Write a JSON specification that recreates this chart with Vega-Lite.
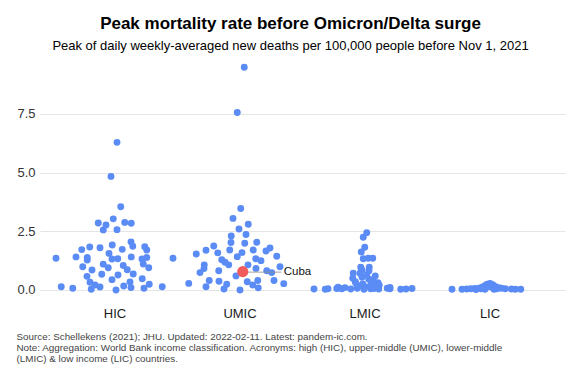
{
  "$schema": "https://vega.github.io/schema/vega-lite/v6.json",
  "width": 525,
  "height": 245,
  "autosize": "none",
  "padding": {"left": 40, "top": 56, "right": 15, "bottom": 72},
  "background": "white",
  "config": {"view": {"stroke": null}, "font": "Liberation Sans"},
  "title": {
    "text": "Peak mortality rate before Omicron/Delta surge",
    "subtitle": "Peak of daily weekly-averaged new deaths per 100,000 people before Nov 1, 2021",
    "anchor": "middle",
    "frame": "bounds",
    "font": "Liberation Sans",
    "fontSize": 17,
    "fontWeight": "bold",
    "color": "black",
    "subtitleFont": "Liberation Sans",
    "subtitleFontSize": 13,
    "subtitleColor": "black",
    "offset": 2,
    "subtitlePadding": 7
  },
  "datasets": {
    "pts": [
      {"g":"HIC","j":0.016,"v":6.29},{"g":"HIC","j":-0.032,"v":4.84},{"g":"HIC","j":0.046,"v":3.55},{"g":"HIC","j":-0.134,"v":2.85},
      {"g":"HIC","j":-0.072,"v":2.77},{"g":"HIC","j":-0.014,"v":3.03},{"g":"HIC","j":0.078,"v":2.88},{"g":"HIC","j":0.13,"v":2.84},
      {"g":"HIC","j":-0.094,"v":2.56},{"g":"HIC","j":0.016,"v":2.57},{"g":"HIC","j":-0.472,"v":1.35},{"g":"HIC","j":-0.312,"v":1.41},
      {"g":"HIC","j":-0.266,"v":1.72},{"g":"HIC","j":-0.222,"v":1.38},{"g":"HIC","j":-0.222,"v":1.28},{"g":"HIC","j":-0.202,"v":1.83},
      {"g":"HIC","j":-0.12,"v":1.8},{"g":"HIC","j":-0.022,"v":1.92},{"g":"HIC","j":0.058,"v":1.73},{"g":"HIC","j":0.128,"v":2.05},
      {"g":"HIC","j":0.142,"v":1.86},{"g":"HIC","j":0.238,"v":1.84},{"g":"HIC","j":0.254,"v":1.7},{"g":"HIC","j":-0.048,"v":1.56},
      {"g":"HIC","j":-0.024,"v":1.32},{"g":"HIC","j":0.022,"v":1.33},{"g":"HIC","j":0.13,"v":1.41},{"g":"HIC","j":0.216,"v":1.32},
      {"g":"HIC","j":0.254,"v":1.38},{"g":"HIC","j":0.464,"v":1.35},{"g":"HIC","j":-0.258,"v":0.99},{"g":"HIC","j":-0.184,"v":0.85},
      {"g":"HIC","j":-0.094,"v":1.1},{"g":"HIC","j":-0.054,"v":0.95},{"g":"HIC","j":0.066,"v":1.04},{"g":"HIC","j":0.098,"v":0.86},
      {"g":"HIC","j":0.226,"v":1.11},{"g":"HIC","j":0.27,"v":0.95},{"g":"HIC","j":-0.224,"v":0.58},{"g":"HIC","j":-0.106,"v":0.67},
      {"g":"HIC","j":0.024,"v":0.64},{"g":"HIC","j":0.146,"v":0.68},{"g":"HIC","j":0.218,"v":0.48},{"g":"HIC","j":-0.2,"v":0.33},
      {"g":"HIC","j":-0.16,"v":0.21},{"g":"HIC","j":-0.12,"v":0.13},{"g":"HIC","j":-0.024,"v":0.44},{"g":"HIC","j":0.07,"v":0.17},
      {"g":"HIC","j":0.12,"v":0.34},{"g":"HIC","j":0.128,"v":0.1},{"g":"HIC","j":0.274,"v":0.24},{"g":"HIC","j":0.232,"v":0.07},
      {"g":"HIC","j":-0.43,"v":0.14},{"g":"HIC","j":-0.338,"v":0.07},{"g":"HIC","j":-0.19,"v":0.03},{"g":"HIC","j":0.008,"v":0.0},
      {"g":"HIC","j":0.378,"v":0.14},
      {"g":"UMIC","j":0.034,"v":9.49},{"g":"UMIC","j":-0.022,"v":7.56},{"g":"UMIC","j":0.006,"v":3.47},{"g":"UMIC","j":-0.056,"v":3.05},
      {"g":"UMIC","j":0.066,"v":2.8},{"g":"UMIC","j":-0.008,"v":2.6},{"g":"UMIC","j":-0.07,"v":2.3},{"g":"UMIC","j":0.048,"v":2.36},
      {"g":"UMIC","j":-0.072,"v":2.02},{"g":"UMIC","j":0.038,"v":1.99},{"g":"UMIC","j":0.134,"v":2.03},{"g":"UMIC","j":-0.21,"v":1.87},
      {"g":"UMIC","j":-0.272,"v":1.69},{"g":"UMIC","j":-0.35,"v":1.53},{"g":"UMIC","j":-0.082,"v":1.7},{"g":"UMIC","j":0.106,"v":1.7},
      {"g":"UMIC","j":0.208,"v":1.66},{"g":"UMIC","j":0.24,"v":1.79},{"g":"UMIC","j":0.294,"v":1.44},{"g":"UMIC","j":-0.178,"v":1.58},
      {"g":"UMIC","j":0.016,"v":1.59},{"g":"UMIC","j":-0.022,"v":1.42},{"g":"UMIC","j":-0.146,"v":1.29},{"g":"UMIC","j":0.126,"v":1.33},
      {"g":"UMIC","j":0.168,"v":1.25},{"g":"UMIC","j":0.064,"v":1.07},{"g":"UMIC","j":-0.286,"v":1.07},{"g":"UMIC","j":-0.09,"v":1.07},
      {"g":"UMIC","j":-0.12,"v":1.18},{"g":"UMIC","j":0.32,"v":0.99},{"g":"UMIC","j":-0.288,"v":0.91},{"g":"UMIC","j":0.128,"v":0.92},
      {"g":"UMIC","j":0.214,"v":0.82},{"g":"UMIC","j":-0.17,"v":0.82},{"g":"UMIC","j":-0.32,"v":0.74},{"g":"UMIC","j":-0.032,"v":0.6},
      {"g":"UMIC","j":0.254,"v":0.74},{"g":"UMIC","j":0.058,"v":0.35},{"g":"UMIC","j":0.102,"v":0.21},{"g":"UMIC","j":0.142,"v":0.4},
      {"g":"UMIC","j":0.146,"v":0.09},{"g":"UMIC","j":-0.246,"v":0.4},{"g":"UMIC","j":-0.168,"v":0.37},{"g":"UMIC","j":-0.106,"v":0.24},
      {"g":"UMIC","j":-0.128,"v":0.04},{"g":"UMIC","j":0.0,"v":0.0},{"g":"UMIC","j":-0.272,"v":0.14},{"g":"UMIC","j":-0.41,"v":0.28},
      {"g":"UMIC","j":0.272,"v":0.4},{"g":"UMIC","j":0.35,"v":0.27},
      {"g":"LMIC","j":0.014,"v":2.44},{"g":"LMIC","j":-0.014,"v":2.25},{"g":"LMIC","j":-0.002,"v":1.82},{"g":"LMIC","j":-0.03,"v":1.62},
      {"g":"LMIC","j":-0.014,"v":1.33},{"g":"LMIC","j":0.026,"v":1.35},{"g":"LMIC","j":0.062,"v":1.35},{"g":"LMIC","j":-0.034,"v":0.97},
      {"g":"LMIC","j":0.034,"v":0.97},{"g":"LMIC","j":-0.024,"v":0.85},{"g":"LMIC","j":-0.094,"v":0.71},{"g":"LMIC","j":-0.098,"v":0.5},
      {"g":"LMIC","j":-0.078,"v":0.35},{"g":"LMIC","j":-0.04,"v":0.71},{"g":"LMIC","j":-0.024,"v":0.54},{"g":"LMIC","j":0.014,"v":0.64},
      {"g":"LMIC","j":0.03,"v":0.46},{"g":"LMIC","j":0.05,"v":0.28},{"g":"LMIC","j":0.082,"v":0.6},{"g":"LMIC","j":0.104,"v":0.31},
      {"g":"LMIC","j":0.114,"v":0.2},{"g":"LMIC","j":-0.018,"v":0.26},{"g":"LMIC","j":-0.05,"v":0.17},{"g":"LMIC","j":0.002,"v":0.14},
      {"g":"LMIC","j":0.082,"v":0.17},{"g":"LMIC","j":0.04,"v":0.12},{"g":"LMIC","j":-0.072,"v":0.28},{"g":"LMIC","j":0.064,"v":0.45},
      {"g":"LMIC","j":0.032,"v":0.82},
      {"g":"LMIC","j":-0.408,"v":0.04},{"g":"LMIC","j":-0.318,"v":0.03},{"g":"LMIC","j":-0.296,"v":0.05},{"g":"LMIC","j":-0.226,"v":0.06},
      {"g":"LMIC","j":-0.206,"v":0.08},{"g":"LMIC","j":-0.184,"v":0.05},{"g":"LMIC","j":-0.114,"v":0.04},{"g":"LMIC","j":-0.062,"v":0.07},
      {"g":"LMIC","j":-0.008,"v":0.03},{"g":"LMIC","j":0.046,"v":0.05},{"g":"LMIC","j":0.072,"v":0.06},{"g":"LMIC","j":0.11,"v":0.04},
      {"g":"LMIC","j":0.178,"v":0.07},{"g":"LMIC","j":0.2,"v":0.05},{"g":"LMIC","j":0.286,"v":0.03},{"g":"LMIC","j":0.328,"v":0.04},
      {"g":"LMIC","j":0.376,"v":0.06},{"g":"LMIC","j":-0.216,"v":0.12},{"g":"LMIC","j":0.2,"v":0.11},{"g":"LMIC","j":-0.16,"v":0.1},
      {"g":"LIC","j":-0.304,"v":0.03},{"g":"LIC","j":-0.224,"v":0.03},{"g":"LIC","j":-0.186,"v":0.04},{"g":"LIC","j":-0.154,"v":0.05},
      {"g":"LIC","j":-0.122,"v":0.06},{"g":"LIC","j":-0.09,"v":0.08},{"g":"LIC","j":-0.064,"v":0.12},{"g":"LIC","j":-0.042,"v":0.18},
      {"g":"LIC","j":-0.022,"v":0.25},{"g":"LIC","j":0.0,"v":0.28},{"g":"LIC","j":0.022,"v":0.22},{"g":"LIC","j":0.042,"v":0.15},
      {"g":"LIC","j":0.07,"v":0.1},{"g":"LIC","j":0.09,"v":0.07},{"g":"LIC","j":0.122,"v":0.05},{"g":"LIC","j":0.17,"v":0.04},
      {"g":"LIC","j":0.202,"v":0.03},{"g":"LIC","j":0.246,"v":0.03},{"g":"LIC","j":-0.112,"v":0.02},{"g":"LIC","j":-0.072,"v":0.05},
      {"g":"LIC","j":-0.032,"v":0.1},{"g":"LIC","j":-0.008,"v":0.15},{"g":"LIC","j":0.024,"v":0.08},{"g":"LIC","j":0.056,"v":0.05},
      {"g":"LIC","j":-0.04,"v":0.03},{"g":"LIC","j":0.032,"v":0.03}
    ],
    "cuba": [{"g":"UMIC","j":0.022,"v":0.78,"label":"Cuba"}],
    "conn": [{"g":"UMIC","j":0.022,"v":0.76},{"g":"UMIC","j":0.33,"v":0.76}]
  },
  "encoding": {
    "x": {
      "field": "g", "type": "nominal",
      "sort": ["HIC","UMIC","LMIC","LIC"],
      "scale": {"domain": ["HIC","UMIC","LMIC","LIC"], "paddingInner": 0, "paddingOuter": 0.1},
      "axis": {
        "labelAngle": 0, "labelFontSize": 13, "labelColor": "#1a1a1a", "labelPadding": 6,
        "ticks": false, "domain": false, "grid": false,
        "title": ["Source: Schellekens (2021); JHU. Updated: 2022-02-11. Latest: pandem-ic.com.", "Note: Aggregation: World Bank income classification. Acronyms: high (HIC), upper-middle (UMIC), lower-middle", "(LMIC) & low income (LIC) countries."],
        "titleAnchor": "start", "titleAlign": "left", "titleBaseline": "alphabetic",
        "titleX": -24, "titleY": 38.5, "titleFontSize": 9.85, "titleFontWeight": "normal",
        "titleColor": "#444444", "titleLineHeight": 11.2
      }
    },
    "xOffset": {"field": "j", "type": "quantitative", "scale": {"domain": [-0.5, 0.5]}},
    "y": {
      "field": "v", "type": "quantitative",
      "scale": {"domain": [-0.47, 9.97], "nice": false, "zero": false},
      "axis": {
        "values": [0, 2.5, 5, 7.5], "format": ".1f", "title": null,
        "labelFontSize": 13, "labelColor": "#333333", "labelPadding": 5,
        "ticks": false, "domain": false,
        "gridColor": "#e5e5e5", "gridWidth": 1
      }
    }
  },
  "layer": [
    {"data": {"name": "pts"}, "mark": {"type": "circle", "size": 48, "color": "#5b8cf5", "opacity": 1}},
    {"data": {"name": "conn"}, "mark": {"type": "line", "color": "#8c8c8c", "strokeWidth": 0.8}},
    {"data": {"name": "cuba"}, "mark": {"type": "circle", "size": 125, "color": "#f25b5b", "opacity": 1}},
    {"data": {"name": "cuba"}, "mark": {"type": "text", "align": "left", "baseline": "middle", "dx": 41, "fontSize": 11.5, "color": "#111111"}, "encoding": {"text": {"field": "label"}}}
  ]
}
